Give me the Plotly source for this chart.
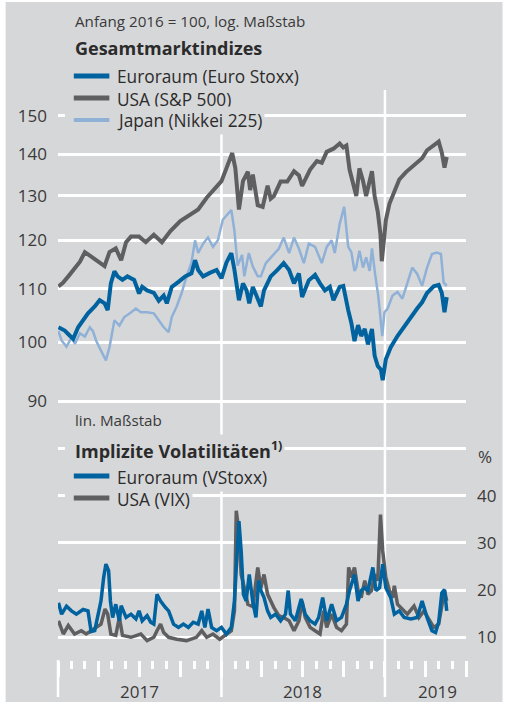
import numpy as np
import plotly.graph_objects as go

# Gesamtmarktindizes, Anfang 2016 = 100
eu_dates = ["2017-01-02", "2017-01-16", "2017-01-27", "2017-02-04", "2017-02-15", "2017-02-26", "2017-03-09",
            "2017-03-24", "2017-04-04", "2017-04-15", "2017-04-22", "2017-04-29", "2017-05-07", "2017-05-14",
            "2017-05-25", "2017-06-05", "2017-06-20", "2017-07-01", "2017-07-08", "2017-07-19", "2017-08-03",
            "2017-08-14", "2017-08-25", "2017-09-01", "2017-09-12", "2017-09-27", "2017-10-12", "2017-10-26",
            "2017-11-03", "2017-11-10", "2017-11-21", "2017-12-06", "2017-12-21", "2018-01-01", "2018-01-12",
            "2018-01-23", "2018-01-30", "2018-02-09", "2018-02-18", "2018-02-26", "2018-03-04", "2018-03-12",
            "2018-03-23", "2018-03-30", "2018-04-06", "2018-04-21", "2018-05-06", "2018-05-20", "2018-06-01",
            "2018-06-12", "2018-06-23", "2018-06-30", "2018-07-15", "2018-07-29", "2018-08-09", "2018-08-20",
            "2018-08-31", "2018-09-08", "2018-09-22", "2018-09-30", "2018-10-11", "2018-10-18", "2018-10-25",
            "2018-11-02", "2018-11-09", "2018-11-17", "2018-11-24", "2018-12-03", "2018-12-09", "2018-12-16",
            "2018-12-23", "2018-12-27", "2019-01-03", "2019-01-14", "2019-01-29", "2019-02-09", "2019-02-20",
            "2019-03-03", "2019-03-14", "2019-03-25", "2019-04-05", "2019-04-20", "2019-05-01", "2019-05-08",
            "2019-05-14", "2019-05-19"]
eu_vals = [102.7, 102.1, 101.2, 100.6, 102.7, 104.0, 105.3, 106.6, 107.8, 107.2, 105.9, 111.1, 113.5, 112.5,
           111.8, 112.5, 111.8, 109.1, 110.4, 109.7, 109.2, 107.7, 108.7, 107.2, 110.4, 111.4, 112.5, 113.1,
           115.8, 113.8, 112.5, 113.2, 113.8, 112.1, 115.3, 117.3, 113.8, 107.8, 111.1, 109.7, 107.2, 110.4,
           107.8, 106.6, 109.7, 112.5, 113.8, 115.2, 113.8, 111.1, 113.1, 108.4, 111.7, 112.8, 111.1, 109.7,
           110.4, 107.8, 110.4, 110.6, 105.9, 103.5, 100.2, 103.1, 101.1, 102.4, 99.6, 102.4, 97.6, 95.8,
           95.2, 93.4, 97.0, 99.1, 101.1, 102.4, 103.6, 105.1, 106.2, 107.4, 109.2, 110.5, 110.8, 109.2,
           105.5, 108.4]

us_dates = ["2017-01-02", "2017-01-12", "2017-01-24", "2017-02-07", "2017-02-19", "2017-03-02", "2017-03-08",
            "2017-03-20", "2017-03-31", "2017-04-15", "2017-04-26", "2017-05-10", "2017-05-22", "2017-06-02",
            "2017-06-13", "2017-07-01", "2017-07-16", "2017-08-03", "2017-08-21", "2017-09-09", "2017-10-01",
            "2017-10-23", "2017-11-10", "2017-11-29", "2017-12-17", "2018-01-01", "2018-01-12", "2018-01-25",
            "2018-02-01", "2018-02-09", "2018-02-18", "2018-03-01", "2018-03-06", "2018-03-12", "2018-03-23",
            "2018-04-03", "2018-04-14", "2018-04-21", "2018-04-28", "2018-05-13", "2018-05-28", "2018-06-12",
            "2018-06-23", "2018-06-30", "2018-07-18", "2018-08-02", "2018-08-13", "2018-08-24", "2018-09-08",
            "2018-09-22", "2018-09-30", "2018-10-07", "2018-10-14", "2018-10-22", "2018-10-29", "2018-11-05",
            "2018-11-13", "2018-11-20", "2018-11-25", "2018-12-03", "2018-12-09", "2018-12-16", "2018-12-22",
            "2018-12-25", "2018-12-31", "2019-01-03", "2019-01-11", "2019-01-22", "2019-02-02", "2019-02-17",
            "2019-02-28", "2019-03-14", "2019-03-25", "2019-04-05", "2019-04-20", "2019-05-01", "2019-05-08",
            "2019-05-14", "2019-05-19"]
us_vals = [110.5, 111.2, 112.5, 114.0, 115.5, 117.5, 117.1, 116.3, 115.5, 114.6, 117.5, 118.3, 115.8, 119.6,
           120.8, 120.8, 119.6, 121.2, 119.6, 122.0, 124.2, 125.6, 126.8, 129.5, 131.6, 133.4, 136.5, 140.3,
           136.5, 126.8, 133.4, 135.7, 131.3, 135.0, 127.8, 127.4, 132.3, 129.3, 129.9, 133.3, 133.3, 135.8,
           134.8, 132.3, 136.2, 138.3, 137.9, 140.6, 141.4, 142.7, 141.7, 142.2, 136.2, 132.6, 129.9, 136.5,
           133.5, 129.9, 132.6, 135.8, 129.9, 126.3, 121.3, 115.6, 121.3, 124.4, 128.1, 131.0, 133.8, 135.6,
           136.6, 137.8, 139.0, 141.0, 142.3, 143.2, 140.4, 136.7, 139.3]

jp_dates = ["2017-01-02", "2017-01-09", "2017-01-20", "2017-01-31", "2017-02-08", "2017-02-19", "2017-03-02",
            "2017-03-13", "2017-03-20", "2017-03-27", "2017-04-07", "2017-04-18", "2017-04-26", "2017-05-07",
            "2017-05-18", "2017-05-29", "2017-06-09", "2017-06-24", "2017-07-05", "2017-07-19", "2017-08-03",
            "2017-08-14", "2017-08-25", "2017-09-05", "2017-09-12", "2017-09-23", "2017-10-04", "2017-10-15",
            "2017-10-26", "2017-11-03", "2017-11-10", "2017-11-21", "2017-12-02", "2017-12-13", "2017-12-24",
            "2018-01-04", "2018-01-15", "2018-01-23", "2018-01-30", "2018-02-06", "2018-02-16", "2018-02-21",
            "2018-03-03", "2018-03-12", "2018-03-23", "2018-03-30", "2018-04-10", "2018-04-25", "2018-05-09",
            "2018-05-20", "2018-06-01", "2018-06-12", "2018-06-23", "2018-07-04", "2018-07-15", "2018-07-29",
            "2018-08-13", "2018-08-24", "2018-09-04", "2018-09-11", "2018-09-22", "2018-10-02", "2018-10-11",
            "2018-10-18", "2018-10-25", "2018-10-29", "2018-11-05", "2018-11-13", "2018-11-20", "2018-11-28",
            "2018-12-03", "2018-12-10", "2018-12-17", "2018-12-23", "2018-12-26", "2018-12-31", "2019-01-07",
            "2019-01-18", "2019-01-29", "2019-02-09", "2019-02-20", "2019-03-03", "2019-03-14", "2019-03-25",
            "2019-04-05", "2019-04-16", "2019-04-27", "2019-05-06", "2019-05-12", "2019-05-19"]
jp_vals = [102.0, 100.3, 99.2, 100.8, 99.7, 101.6, 101.0, 102.7, 102.0, 100.3, 98.5, 96.8, 99.1, 104.0,
           103.0, 104.6, 105.2, 106.2, 105.5, 105.5, 105.3, 104.0, 102.7, 101.8, 104.6, 106.6, 109.2, 112.5,
           115.3, 120.0, 117.3, 119.3, 120.6, 118.6, 120.0, 124.5, 125.8, 126.7, 122.0, 114.7, 116.9, 112.5,
           117.3, 114.5, 112.5, 112.5, 115.2, 116.7, 118.2, 120.6, 117.3, 120.6, 118.2, 115.2, 119.3, 118.6,
           115.2, 118.6, 120.0, 117.3, 123.6, 127.4, 118.6, 117.5, 113.6, 114.3, 117.8, 114.3, 116.4, 113.6,
           118.3, 113.0, 108.7, 103.6, 101.1, 105.5, 106.2, 108.7, 109.4, 108.1, 111.3, 114.3, 113.0, 110.6,
           114.3, 117.1, 117.4, 117.1, 111.3, 110.6]

# Implizite Volatilitaeten, %
vs_dates = ["2017-01-02", "2017-01-09", "2017-01-20", "2017-01-31", "2017-02-11", "2017-02-26", "2017-03-09",
            "2017-03-16", "2017-03-24", "2017-03-31", "2017-04-07", "2017-04-13", "2017-04-18", "2017-04-24",
            "2017-04-28", "2017-05-03", "2017-05-10", "2017-05-18", "2017-05-22", "2017-06-02", "2017-06-13",
            "2017-06-24", "2017-07-01", "2017-07-08", "2017-07-19", "2017-07-27", "2017-08-03", "2017-08-10",
            "2017-08-18", "2017-08-29", "2017-09-05", "2017-09-16", "2017-09-27", "2017-10-08", "2017-10-19",
            "2017-10-30", "2017-11-10", "2017-11-18", "2017-11-25", "2017-12-02", "2017-12-10", "2017-12-21",
            "2018-01-01", "2018-01-12", "2018-01-23", "2018-01-30", "2018-02-04", "2018-02-09", "2018-02-14",
            "2018-02-19", "2018-02-25", "2018-03-04", "2018-03-12", "2018-03-19", "2018-03-25", "2018-03-30",
            "2018-04-06", "2018-04-14", "2018-04-21", "2018-05-02", "2018-05-13", "2018-05-24", "2018-05-30",
            "2018-06-04", "2018-06-15", "2018-06-28", "2018-07-07", "2018-07-18", "2018-07-29", "2018-08-06",
            "2018-08-15", "2018-08-24", "2018-09-04", "2018-09-15", "2018-09-26", "2018-10-07", "2018-10-14",
            "2018-10-25", "2018-11-02", "2018-11-09", "2018-11-17", "2018-11-24", "2018-12-05", "2018-12-12",
            "2018-12-20", "2018-12-27", "2019-01-03", "2019-01-14", "2019-01-22", "2019-02-02", "2019-02-13",
            "2019-02-28", "2019-03-14", "2019-03-25", "2019-04-05", "2019-04-16", "2019-04-24", "2019-05-01",
            "2019-05-08", "2019-05-14", "2019-05-19"]
vs_vals = [17.3, 14.9, 16.6, 15.6, 14.9, 15.9, 15.6, 11.2, 11.4, 14.2, 17.7, 22.7, 25.5, 24.1, 17.7, 14.2,
           17.0, 13.5, 16.7, 14.2, 14.9, 13.9, 15.6, 13.5, 14.6, 13.2, 12.8, 19.1, 17.7, 16.3, 15.6, 12.8,
           12.1, 12.8, 12.1, 13.2, 12.8, 15.6, 12.1, 16.0, 12.1, 11.4, 12.1, 10.7, 12.1, 17.7, 26.9, 34.6,
           28.3, 19.1, 17.7, 23.3, 17.5, 14.2, 22.0, 19.9, 18.4, 15.6, 14.2, 14.9, 13.5, 14.9, 19.9, 14.9,
           13.5, 18.1, 14.9, 13.5, 12.8, 14.2, 18.4, 13.5, 17.0, 13.5, 14.2, 17.0, 19.9, 23.3, 17.7, 19.9,
           20.5, 19.9, 24.8, 19.9, 20.5, 25.5, 20.5, 18.4, 14.9, 15.6, 14.2, 13.9, 14.2, 17.7, 14.2, 11.4,
           11.0, 13.2, 19.4, 20.1, 15.6]

vix_dates = ["2017-01-02", "2017-01-13", "2017-01-24", "2017-02-07", "2017-02-22", "2017-03-05", "2017-03-16",
             "2017-03-27", "2017-04-07", "2017-04-16", "2017-04-22", "2017-04-29", "2017-05-10", "2017-05-18",
             "2017-05-25", "2017-06-13", "2017-07-05", "2017-07-19", "2017-08-03", "2017-08-10", "2017-08-18",
             "2017-08-25", "2017-09-05", "2017-09-23", "2017-10-15", "2017-11-06", "2017-11-18", "2017-11-29",
             "2017-12-13", "2017-12-28", "2018-01-12", "2018-01-23", "2018-01-30", "2018-02-03", "2018-02-09",
             "2018-02-14", "2018-02-21", "2018-03-01", "2018-03-12", "2018-03-23", "2018-03-30", "2018-04-06",
             "2018-04-14", "2018-04-21", "2018-04-28", "2018-05-09", "2018-05-20", "2018-06-01", "2018-06-12",
             "2018-06-23", "2018-06-30", "2018-07-07", "2018-07-18", "2018-07-29", "2018-08-09", "2018-08-17",
             "2018-08-24", "2018-09-04", "2018-09-15", "2018-09-26", "2018-10-07", "2018-10-12", "2018-10-18",
             "2018-10-25", "2018-11-02", "2018-11-09", "2018-11-17", "2018-11-24", "2018-12-02", "2018-12-09",
             "2018-12-16", "2018-12-22", "2018-12-27", "2019-01-03", "2019-01-11", "2019-01-18", "2019-01-22",
             "2019-01-29", "2019-02-09", "2019-02-20", "2019-03-07", "2019-03-18", "2019-03-29", "2019-04-09",
             "2019-04-20", "2019-05-01", "2019-05-08", "2019-05-14", "2019-05-19"]
vix_vals = [13.5, 10.7, 12.5, 10.7, 11.4, 10.7, 11.4, 12.1, 12.8, 16.0, 14.9, 10.7, 10.4, 14.2, 10.4, 10.0,
            10.7, 9.3, 10.0, 11.4, 12.8, 11.0, 10.0, 9.6, 9.3, 10.0, 11.4, 10.0, 10.7, 9.6, 10.7, 11.4, 15.6,
            36.8, 32.5, 23.3, 20.5, 17.0, 16.5, 24.8, 20.5, 23.3, 19.1, 17.7, 16.3, 14.6, 14.2, 13.5, 11.4,
            13.5, 17.7, 14.2, 12.1, 11.4, 10.7, 15.6, 12.1, 14.9, 12.1, 11.4, 12.8, 24.8, 22.7, 24.8, 19.9,
            18.4, 22.0, 19.1, 19.9, 23.3, 22.0, 36.0, 28.3, 22.7, 19.9, 18.4, 20.9, 17.0, 16.0, 14.9, 16.6,
            14.2, 15.6, 13.9, 12.1, 12.8, 17.0, 19.9, 17.7]

idx_ticks = [90, 100, 110, 120, 130, 140, 150]
vol_ticks = [10, 20, 30, 40, 50]
vol_labels = ["10", "20", "30", "40", ""]
years = ["2017", "2018", "2019"]
year_label_dates = ["2017-07-02", "2018-07-02", "2019-04-28"]
year_bounds = ["2018-01-01", "2019-01-01"]

BG = "#d6d7d9"
BLUE = "#00639f"
GREY = "#5f5f61"
LIGHT = "#8fb1d7"
TXT = "#2b2b2b"
TXT2 = "#3a3a3a"
FONT = "Open Sans"

# plot box in pixels
W, H = 508, 705
L, R, T, B = 58, 471, 90, 660
X0, X1 = "2017-01-01", "2019-07-01"


def px(x):
    return (x - L) / (R - L)


def py(y):
    return (B - y) / (B - T)


def xd(d):
    t0 = np.datetime64(X0)
    return (np.datetime64(d) - t0) / (np.datetime64(X1) - t0)


# log axis: 90 at y=401, 150 at y=115.7 ; linear axis: 10 at 637.3, 40 at 495.7
per_dec = (401 - 115.7) / np.log10(150 / 90)
y_lo = np.log10(90) - (B - 401) / per_dec
y_hi = np.log10(90) + (401 - T) / per_dec
per_u = (637.3 - 495.7) / 30
v_lo = 10 - (B - 637.3) / per_u
v_hi = 10 + (637.3 - T) / per_u

fig = go.Figure()
fig.add_trace(go.Scatter(x=us_dates, y=us_vals, mode="lines", line=dict(color=GREY, width=4), yaxis="y"))
fig.add_trace(go.Scatter(x=jp_dates, y=jp_vals, mode="lines", line=dict(color=LIGHT, width=2.5), yaxis="y"))
fig.add_trace(go.Scatter(x=eu_dates, y=eu_vals, mode="lines", line=dict(color=BLUE, width=4), yaxis="y"))
fig.add_trace(go.Scatter(x=vix_dates, y=vix_vals, mode="lines", line=dict(color=GREY, width=3.5), yaxis="y2"))
fig.add_trace(go.Scatter(x=vs_dates, y=vs_vals, mode="lines", line=dict(color=BLUE, width=3.5), yaxis="y2"))

shapes = [dict(type="rect", xref="paper", yref="paper", x0=px(5), x1=px(508), y0=py(702), y1=py(2),
               fillcolor=BG, line_width=0, layer="below")]
# year separators run through the axis down to the labels
shapes.append(dict(type="line", xref="paper", yref="paper", x0=0, x1=0, y0=py(697), y1=py(B),
                   line=dict(color="white", width=2.5), layer="below"))
for d in year_bounds:
    shapes.append(dict(type="line", xref="paper", yref="paper", x0=xd(d), x1=xd(d), y0=py(697), y1=1,
                       line=dict(color="white", width=2.5), layer="below"))

annotations = []


def note(text, x, y, size=16, color=TXT, bg=None):
    annotations.append(dict(text=text, xref="paper", yref="paper", x=px(x), y=py(y), xanchor="left",
                            yanchor="middle", showarrow=False, font=dict(family=FONT, size=size, color=color),
                            bgcolor=bg, borderpad=2))


def legend_row(text, color, width, y):
    # grey patch hides grid lines behind the legend sample
    shapes.append(dict(type="rect", xref="paper", yref="paper", x0=px(65), x1=px(118), y0=py(y + 12),
                       y1=py(y - 12), fillcolor=BG, line_width=0, layer="above"))
    shapes.append(dict(type="line", xref="paper", yref="paper", x0=px(74), x1=px(110), y0=py(y), y1=py(y),
                       line=dict(color=color, width=width), layer="above"))
    note(text, 115, y + 1, size=17.3, bg=BG)


note("Anfang 2016 = 100, log. Maßstab", 72, 21, size=15.2, color=TXT2)
note("<b>Gesamtmarktindizes</b>", 72, 48, size=18)
legend_row("Euroraum (Euro Stoxx)", BLUE, 5, 76)
legend_row("USA (S&P 500)", GREY, 5, 98)
legend_row("Japan (Nikkei 225)", LIGHT, 4, 120)

note("lin. Maßstab", 72, 420, size=15.2, color=TXT2, bg=BG)
shapes.append(dict(type="rect", xref="paper", yref="paper", x0=px(65), x1=px(74), y0=py(462), y1=py(438),
                   fillcolor=BG, line_width=0, layer="above"))
note("<b>Implizite Volatilitäten<sup>1)</sup></b>", 72, 450, size=18, bg=BG)
legend_row("Euroraum (VStoxx)", BLUE, 5, 476)
legend_row("USA (VIX)", GREY, 5, 498)

annotations.append(dict(text="%", xref="paper", yref="paper", x=px(490), y=py(456), xanchor="center",
                        yanchor="middle", showarrow=False, font=dict(family=FONT, size=17, color=TXT2)))
for yr, d in zip(years, year_label_dates):
    annotations.append(dict(text=yr, xref="x", yref="paper", x=d, y=py(691), xanchor="center",
                            yanchor="middle", showarrow=False, font=dict(family=FONT, size=17, color=TXT2)))

fig.update_layout(
    width=W, height=H, autosize=False,
    margin=dict(l=L, r=W - R, t=T, b=H - B, pad=0),
    paper_bgcolor="white", plot_bgcolor=BG,
    showlegend=False,
    font=dict(family=FONT, size=17, color=TXT2),
    shapes=shapes, annotations=annotations,
    xaxis=dict(type="date", range=[X0, X1], showgrid=False, zeroline=False, showline=False,
               showticklabels=False, ticks="outside", tick0="2017-01-01", dtick="M3", ticklen=16,
               tickwidth=2.5, tickcolor="white",
               minor=dict(tick0="2017-01-01", dtick="M1", ticks="outside", ticklen=8, tickwidth=2.5,
                          tickcolor="white", showgrid=False)),
    yaxis=dict(type="log", range=[y_lo, y_hi], tickmode="array", tickvals=idx_ticks, ticks="",
               showgrid=True, gridcolor="white", gridwidth=2.5, zeroline=False, showline=False,
               ticklabelstandoff=10),
    yaxis2=dict(overlaying="y", side="right", range=[v_lo, v_hi], tickmode="array", tickvals=vol_ticks,
                ticktext=vol_labels, ticks="", showgrid=True, gridcolor="white", gridwidth=2.5,
                zeroline=False, showline=False, ticklabelstandoff=10),
)

# the page is shown in a window of exactly the figure size, so drop the body margin
fig.write_html("out.html", config={"displayModeBar": False},
               post_script="document.body.style.margin='0px';")
